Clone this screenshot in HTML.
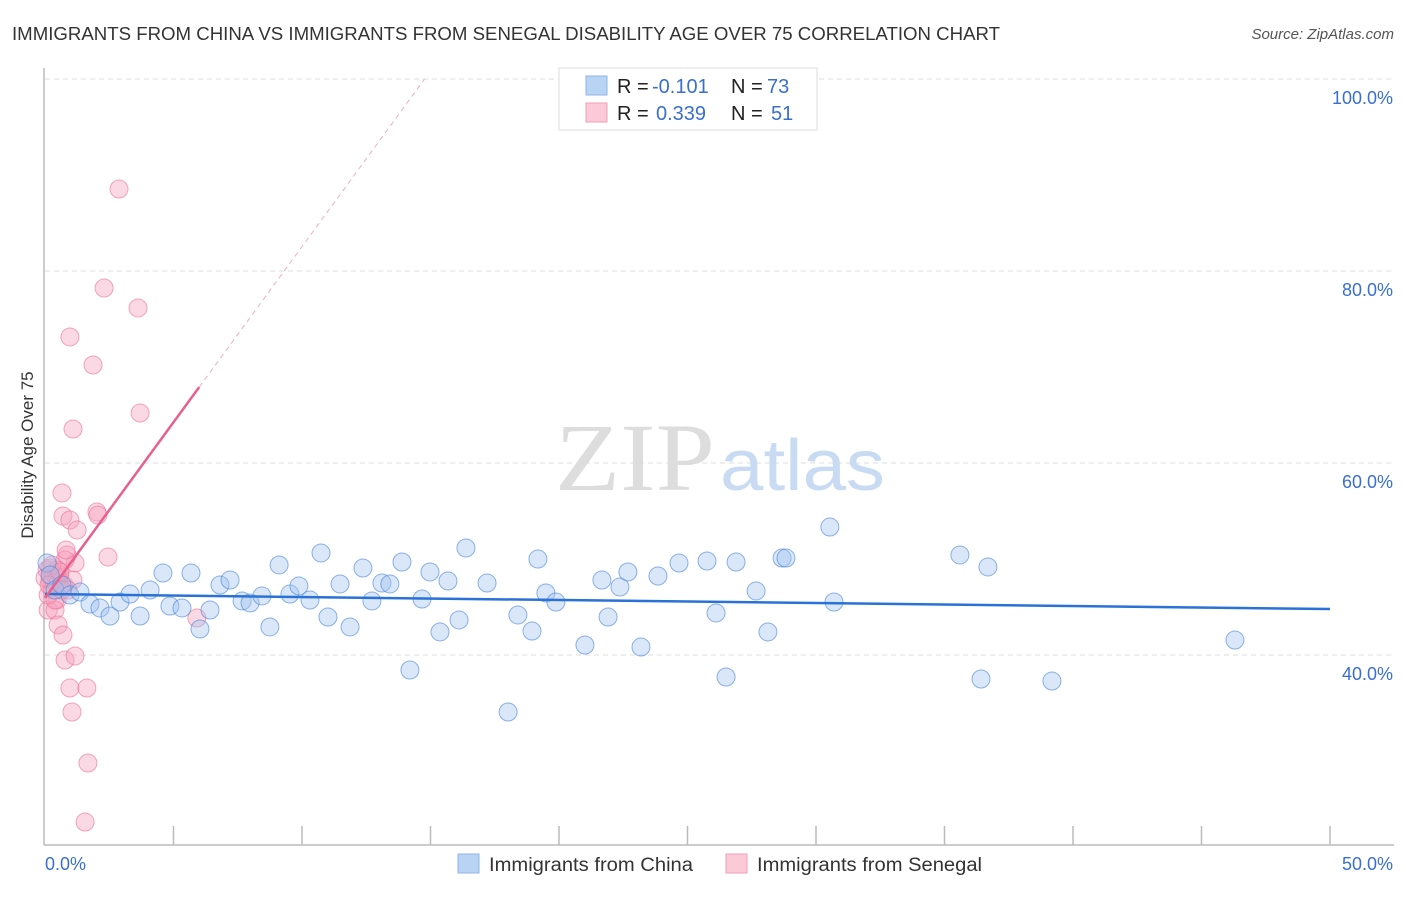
<!DOCTYPE html>
<html><head><meta charset="utf-8"><style>
body{margin:0;background:#fff;font-family:"Liberation Sans",sans-serif}
</style></head><body>
<svg width="1406" height="892" xmlns="http://www.w3.org/2000/svg" font-family="Liberation Sans, sans-serif">
<text x="12" y="40" font-size="18" fill="#333" textLength="988" lengthAdjust="spacingAndGlyphs">IMMIGRANTS FROM CHINA VS IMMIGRANTS FROM SENEGAL DISABILITY AGE OVER 75 CORRELATION CHART</text>
<text x="1394" y="39" font-size="15" fill="#555" text-anchor="end" font-style="italic">Source: ZipAtlas.com</text>
<g id="grid"></g>
<text x="555" y="490" font-size="96" fill="#ddd" style="font-family:'Liberation Serif',serif" textLength="160" lengthAdjust="spacingAndGlyphs">ZIP</text>
<text x="720" y="490" font-size="72" fill="#c9dbf2" textLength="165" lengthAdjust="spacingAndGlyphs">atlas</text>
<line x1="44" y1="68" x2="44" y2="845" stroke="#bbb" stroke-width="1.5"/>
<line x1="44" y1="845" x2="1394" y2="845" stroke="#bbb" stroke-width="1.5"/>
<g id="ticks"></g>
<text x="45" y="870" font-size="18" fill="#3a6fd0">0.0%</text>
<text x="1393" y="870" font-size="18" fill="#3a6fd0" text-anchor="end">50.0%</text>
<text transform="translate(33,455) rotate(-90)" font-size="17" fill="#333" text-anchor="middle">Disability Age Over 75</text>
<g id="pts"></g>
<g id="trend"></g>
<g>
<rect x="559" y="68" width="258" height="62" fill="#fff" stroke="#ddd"/>
<rect x="586" y="76" width="21" height="19" fill="#b8d4f5" stroke="#8fb5e6"/>
<rect x="586" y="103" width="21" height="19" fill="#fbc9d7" stroke="#f0a0b8"/>
<text x="617" y="93" font-size="20" fill="#222">R =</text>
<text x="652" y="93" font-size="20" fill="#3a6fd0">-0.101</text>
<text x="731" y="93" font-size="20" fill="#222">N =</text>
<text x="767" y="93" font-size="20" fill="#3a6fd0">73</text>
<text x="617" y="120" font-size="20" fill="#222">R =</text>
<text x="656" y="120" font-size="20" fill="#3a6fd0">0.339</text>
<text x="731" y="120" font-size="20" fill="#222">N =</text>
<text x="771" y="120" font-size="20" fill="#3a6fd0">51</text>
</g>
<g>
<rect x="458" y="854" width="21" height="19" fill="#b8d4f5" stroke="#8fb5e6"/>
<text x="489" y="871" font-size="19" fill="#333" textLength="204" lengthAdjust="spacingAndGlyphs">Immigrants from China</text>
<rect x="726" y="854" width="21" height="19" fill="#fbc9d7" stroke="#f0a0b8"/>
<text x="757" y="871" font-size="19" fill="#333" textLength="225" lengthAdjust="spacingAndGlyphs">Immigrants from Senegal</text>
</g>
</svg>
<script>
const yTicks=[40,60,80,100];
const xTickCount=10;
const chinaX=[0.08,0.2,0.39,0.66,0.97,1.36,1.75,2.14,2.53,2.92,3.31,3.70,4.09,4.59,4.86,5.33,5.68,6.03,6.42,6.81,7.20,7.67,7.98,8.44,8.75,9.11,9.53,9.88,10.31,10.74,11.01,11.48,11.87,12.37,12.72,13.11,13.42,13.89,14.20,14.67,14.98,15.37,15.68,16.11,16.38,17.20,18.02,18.40,18.95,19.18,19.49,19.88,21.01,21.67,21.91,22.37,22.68,23.19,23.85,24.67,25.76,26.11,26.50,26.89,27.67,28.13,28.68,28.83,30.54,30.70,35.60,36.42,36.69,39.18,46.30];
const chinaY=[49.58,48.33,46.77,47.29,46.25,46.56,45.31,44.90,44.06,45.52,46.35,44.06,46.77,48.54,45.10,44.90,48.54,42.71,44.69,47.29,47.81,45.63,45.42,46.15,42.92,49.38,46.35,47.19,45.73,50.63,43.96,47.40,42.92,49.06,45.63,47.50,47.40,49.69,38.44,45.83,48.65,42.40,47.71,43.65,51.15,47.50,34.06,44.17,42.50,50.00,46.46,45.52,41.04,47.81,43.96,47.08,48.65,40.83,48.23,49.58,49.79,44.38,37.71,49.69,46.67,42.40,50.10,50.10,53.33,45.52,50.42,37.50,49.17,37.29,41.56];
const senX=[0.08,0.19,0.27,0.39,0.47,0.58,0.12,0.39,0.51,0.70,0.78,0.97,1.05,1.63,1.67,1.56,1.17,0.58,0.66,0.70,0.97,1.25,1.09,0.97,1.87,2.30,2.88,3.62,3.70,2.02,2.06,2.45,1.17,0.86,0.78,0.31,0.51,0.74,0.19,0.12,0.47,0.82,1.09,5.91,0.39,0.27,0.0,0.89,0.66,0.58,0.16];
const senY=[48.85,47.81,46.77,48.33,45.73,47.29,44.69,44.69,43.13,42.08,39.48,36.56,34.06,36.56,28.75,22.60,39.90,48.33,56.88,54.48,54.06,53.02,63.54,73.13,70.21,78.23,88.54,76.15,65.21,54.90,54.58,50.21,49.58,50.42,49.90,47.81,48.02,47.29,49.06,46.25,48.85,50.94,47.81,43.85,45.73,49.38,48.02,46.77,46.77,48.65,47.29];
const chinaTrend=[46.35,44.79];
const senTrend=[45.94,67.9];
const NS="http://www.w3.org/2000/svg";
const X=v=>45+v/50*1285, Y=v=>79+(100-v)*9.6;
function mk(t,a,p){const e=document.createElementNS(NS,t);for(const k in a)e.setAttribute(k,a[k]);document.getElementById(p).appendChild(e);return e;}
yTicks.forEach(t=>{
 const l=mk('line',{x1:45,x2:1394,y1:Y(t),y2:Y(t),stroke:'#ddd','stroke-dasharray':'5,4'},'grid');
 
 
 const tx=mk('text',{x:1393,y:Y(t)+25,'font-size':18,fill:'#3a6fd0','text-anchor':'end'},'grid');
 tx.textContent=t.toFixed(1)+'%';
 
 
});
for(let i=1;i<=xTickCount;i++){
 const l=mk('line',{x1:X(i*5),x2:X(i*5),y1:826,y2:845,stroke:'#bbb','stroke-width':1.5},'ticks');
 
 
}
senX.forEach((x,i)=>{
 const c=mk('circle',{cx:X(x),cy:Y(senY[i]),r:9,fill:'rgba(246,160,188,0.4)',stroke:'rgba(236,110,150,0.6)','stroke-width':1},'pts');
 
 
});
chinaX.forEach((x,i)=>{
 const c=mk('circle',{cx:X(x),cy:Y(chinaY[i]),r:9,fill:'rgba(160,196,240,0.4)',stroke:'rgba(70,130,215,0.6)','stroke-width':1},'pts');
 
 
});
const b=mk('line',{x1:X(0),y1:Y(chinaTrend[0]),x2:X(50),y2:Y(chinaTrend[1]),stroke:'#2a72d6','stroke-width':2.5},'trend');


const s=(senTrend[1]-senTrend[0])/6;
const p=mk('line',{x1:X(0),y1:Y(senTrend[0]),x2:X(6),y2:Y(senTrend[1]),stroke:'#e8608e','stroke-width':2.5},'trend');


const xe=(100-senTrend[0])/s;
const d=mk('line',{x1:X(6),y1:Y(senTrend[1]),x2:X(xe),y2:Y(100),stroke:'#eab0c4','stroke-width':1,'stroke-dasharray':'5,4'},'trend');


</script>
</body></html>
